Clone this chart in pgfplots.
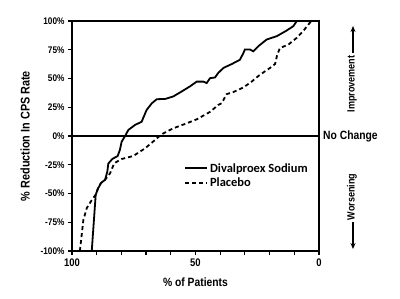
\documentclass[border=0pt]{standalone}
\usepackage{fontspec}
\setmainfont{Liberation Sans}
\newfontfamily\nar[FakeStretch=0.86]{Liberation Sans}
\newfontfamily\calib{Carlito}
\usepackage{pgfplots}
\pgfplotsset{compat=1.18}
\usetikzlibrary{arrows.meta}
\begin{document}
\begin{tikzpicture}[x=1pt,y=1pt]
\useasboundingbox (0,0) rectangle (400,298);
\begin{axis}[
  at={(72pt,47pt)}, anchor=south west,
  scale only axis, width=247pt, height=230pt,
  x dir=reverse,
  xmin=0, xmax=100, ymin=-100, ymax=100,
  axis line style={line width=1.5pt},
  tick style={line width=1.2pt, black},
  tick align=outside, major tick length=4pt,
  xtick pos=bottom, ytick pos=left,
  xtick={0,10,...,100},
  xticklabels={0,,,,,50,,,,,100},
  ytick={-100,-75,-50,-25,0,25,50,75,100},
  yticklabels={-100\%,-75\%,-50\%,-25\%,0\%,25\%,50\%,75\%,100\%},
  yticklabel style={font=\fontsize{9.6}{10}\selectfont\nar\bfseries},
  xticklabel style={font=\fontsize{11}{12}\selectfont\nar\bfseries},
  xlabel={\% of Patients},
  ylabel={\% Reduction In CPS Rate},
  xlabel style={at={(axis description cs:0.5,-0.135)}, anchor=center, font=\fontsize{12}{13}\selectfont\nar\bfseries},
  ylabel style={at={(axis description cs:-0.19,0.5)}, anchor=center, font=\fontsize{12.6}{13}\selectfont\nar\bfseries},
  legend style={draw=none, fill=none, at={(axis description cs:0.453,0.391)}, anchor=north west,
    font=\fontsize{12.5}{14}\selectfont\calib\bfseries, row sep=0pt, inner sep=0pt},
  legend cell align=left,
]
\addplot[black, line width=1.5pt, forget plot] coordinates {(100,0) (0,0)};
\addplot[black, line width=1.8pt,
  legend image code/.code={\draw[black, line width=2pt] (0pt,0pt) -- (22pt,0pt);}] coordinates {
(92.0,-100) (90.4,-51) (89.4,-45.5) (88.3,-41) (86.6,-38) (85.7,-31) (85.3,-24)
(83.7,-20) (81.5,-17.4) (80.6,-12) (79.9,-5) (78.5,0) (77.2,5.2) (74.5,9.6)
(71.8,12.4) (69.8,22.6) (67.7,28.4) (65.7,32) (62.3,32.2) (59.0,34.4) (55.6,38.7)
(52.2,43.2) (49.5,47.3) (46.8,47.3) (45.5,46) (44.1,50.3) (42.1,50.9) (40.8,54.8)
(38.7,59.2) (35.3,62.6) (32.0,66.3) (30.6,72.2) (30.0,75.2) (27.9,75.2) (26.6,73.6)
(24.6,78) (21.2,83.9) (17.1,86.8) (13.1,91.7) (10.4,95.5) (9.0,100)};
\addlegendentry{Divalproex Sodium}
\addplot[black, line width=1.8pt, dash pattern=on 4pt off 3pt,
  legend image code/.code={\draw[black, line width=2pt, dash pattern=on 4pt off 3pt] (0pt,0pt) -- (22pt,0pt);}] coordinates {
(96.8,-100) (95.4,-73) (94.0,-62.6) (92.0,-55.7) (90.4,-51) (89.5,-45.5) (88.3,-41)
(86.6,-38) (84.6,-32.5) (82.9,-23.7) (79.9,-20) (75.2,-17.4) (70.4,-10.7) (66.4,-3.5)
(65.1,-1) (63.0,2.3) (59.0,6.7) (53.6,11) (49.5,14.5) (44.1,21) (40.8,27) (39.4,28.5)
(37.4,36.4) (34.7,38.2) (30.6,42.2) (27.2,47.4) (23.9,53.3) (19.8,59.2) (17.8,62.6)
(16.9,70.7) (15.8,76.5) (12.4,79.5) (9.0,85.4) (6.4,91.2) (4.3,97) (3.0,100)};
\addlegendentry{Placebo}
\end{axis}
\draw[line width=1.4pt, -{Stealth[length=6pt,width=5pt]}] (353,245) -- (353,272);
\node[rotate=90, font=\fontsize{10.5}{12}\selectfont\nar\bfseries] at (352,214) {Improvement};
\node[anchor=west, inner sep=0pt, font=\fontsize{12}{13}\selectfont\nar\bfseries] at (323,162) {No Change};
\node[rotate=90, font=\fontsize{10.5}{12}\selectfont\nar\bfseries] at (352,101) {Worsening};
\draw[line width=1.4pt, -{Stealth[length=6pt,width=5pt]}] (353,76) -- (353,49);
\end{tikzpicture}
\end{document}
